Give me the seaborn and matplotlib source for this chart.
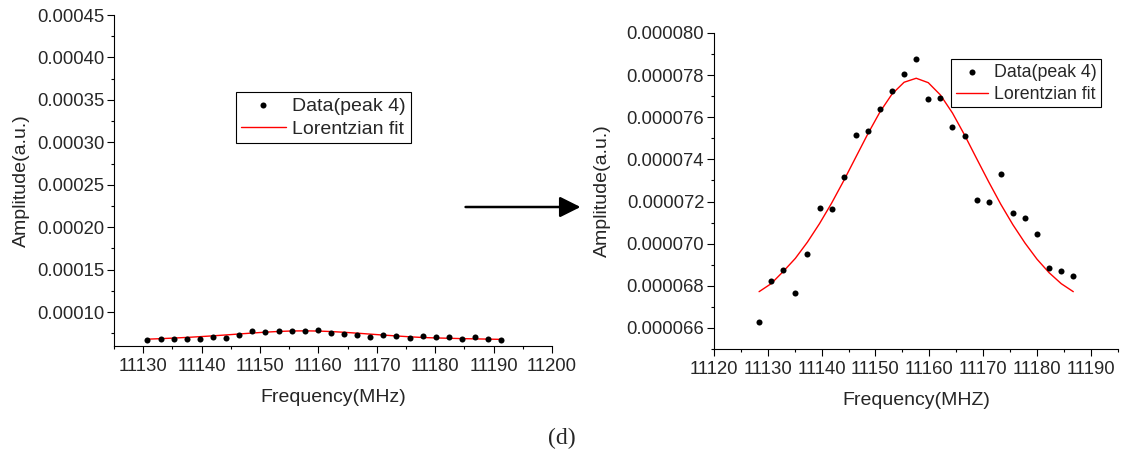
"""
Pik 4 – pomiar amplitudy i dopasowanie Lorentza: pełny zakres osi Y
i powiększenie, połączone strzałką (panel d).
"""

import matplotlib
matplotlib.use('Agg')
import matplotlib.pyplot as plt
from matplotlib.ticker import MultipleLocator, FormatStrFormatter
import numpy as np
import seaborn as sns

# --- odczyty z wykresu; amplitudy w jednostkach 1e-6 ---
freq_full = [11130.74, 11132.98, 11135.23, 11137.47, 11139.71, 11141.96, 11144.20,
             11146.45, 11148.69, 11150.93, 11153.18, 11155.42, 11157.66, 11159.91,
             11162.15, 11164.40, 11166.64, 11168.88, 11171.13, 11173.37, 11175.61,
             11177.86, 11180.10, 11182.35, 11184.59, 11186.83, 11189.08, 11191.32]
amp_full = [67.0, 67.8, 68.2, 67.8, 68.6, 70.5, 69.3, 73.3, 77.2, 76.4, 78.0, 77.2,
            77.2, 78.4, 74.9, 74.4, 72.9, 70.9, 72.5, 71.3, 69.7, 71.7, 70.5, 70.9,
            68.6, 70.1, 68.2, 67.0]
fit_full = [68.05, 68.64, 69.33, 70.11, 70.99, 71.97, 73.03, 74.16, 75.27, 76.29,
            77.13, 77.68, 77.85, 77.62, 77.03, 76.15, 75.11, 73.99, 72.87, 71.82,
            70.86, 70.0, 69.5, 69.1, 68.7, 68.4, 68.1, 67.8]

freq_zoom = [11128.39, 11130.63, 11132.88, 11135.12, 11137.36, 11139.61, 11141.85,
             11144.09, 11146.34, 11148.58, 11150.83, 11153.07, 11155.31, 11157.56,
             11159.80, 11162.04, 11164.29, 11166.53, 11168.77, 11171.02, 11173.26,
             11175.50, 11177.75, 11179.99, 11182.23, 11184.48, 11186.72]
amp_zoom = [66.30, 68.23, 68.74, 67.65, 69.50, 71.69, 71.63, 73.18, 75.16, 75.36,
            76.38, 77.25, 78.04, 78.75, 76.88, 76.93, 75.52, 75.11, 72.07, 71.99,
            73.29, 71.47, 71.22, 70.45, 68.86, 68.72, 68.47]
fit_zoom = [67.72, 68.10, 68.68, 69.30, 70.07, 70.95, 71.92, 72.98, 74.10, 75.21,
            76.25, 77.10, 77.66, 77.85, 77.64, 77.06, 76.20, 75.16, 74.04, 72.93,
            71.87, 70.90, 70.03, 69.26, 68.62, 68.10, 67.72]

TICK_FS = 13.3
LABEL_FS = 14

sns.set_style('ticks')
plt.rcParams['font.family'] = ['Liberation Sans', 'DejaVu Sans']
plt.rcParams['font.size'] = LABEL_FS
plt.rcParams['axes.linewidth'] = 0.8

fig = plt.figure(figsize=(11.26, 4.59), dpi=100)
ax1 = fig.add_axes([0.1012, 0.2462, 0.389, 0.7211])
ax2 = fig.add_axes([0.634, 0.2397, 0.3588, 0.6885])


def draw_panel(ax, freq, amp, fit):
    amp = np.array(amp) * 1e-6
    fit = np.array(fit) * 1e-6
    sns.scatterplot(x=freq, y=amp, ax=ax, color='black', s=19, linewidth=0,
                    label='Data(peak 4)', zorder=3)
    sns.lineplot(x=freq, y=fit, ax=ax, color='red', linewidth=1.0,
                 label='Lorentzian fit', zorder=2)
    sns.despine(ax=ax)
    ax.tick_params(which='major', direction='out', length=5, width=0.8,
                   labelsize=TICK_FS, color='black')
    ax.tick_params(which='minor', direction='out', length=2.5, width=0.8, color='black')
    ax.tick_params(axis='x', pad=3.5)
    ax.tick_params(axis='y', pad=2)
    for sp in ax.spines.values():
        sp.set_color('black')


def style_legend(ax, anchor, fs, hlen):
    leg = ax.legend(loc='upper left', bbox_to_anchor=anchor, frameon=True,
                    fancybox=False, edgecolor='black', framealpha=1,
                    borderpad=0.25, labelspacing=0.3, handlelength=hlen,
                    handletextpad=0.35, borderaxespad=0, fontsize=fs)
    leg.get_frame().set_linewidth(0.8)


draw_panel(ax1, freq_full, amp_full, fit_full)
ax1.set_xlim(11125, 11200)
ax1.set_ylim(0.00006, 0.00045)
ax1.xaxis.set_major_locator(MultipleLocator(10))
ax1.xaxis.set_minor_locator(MultipleLocator(5))
ax1.yaxis.set_minor_locator(MultipleLocator(0.000025))
ax1.set_yticks(np.arange(0.00010, 0.000451, 0.00005))
ax1.yaxis.set_major_formatter(FormatStrFormatter('%.5f'))
ax1.set_xlabel('Frequency(MHz)', fontsize=LABEL_FS, labelpad=10)
ax1.set_ylabel('Amplitude(a.u.)', fontsize=LABEL_FS, labelpad=5)
style_legend(ax1, (0.2785, 0.767), LABEL_FS, 2.3)

draw_panel(ax2, freq_zoom, amp_zoom, fit_zoom)
ax2.set_xlim(11120, 11195)
ax2.set_ylim(0.000065, 0.000080)
ax2.xaxis.set_major_locator(MultipleLocator(10))
ax2.xaxis.set_minor_locator(MultipleLocator(5))
ax2.set_xticks(np.arange(11120, 11191, 10))
ax2.set_yticks(np.arange(0.000066, 0.0000801, 0.000002))
ax2.yaxis.set_minor_locator(MultipleLocator(0.000001))
ax2.yaxis.set_major_formatter(FormatStrFormatter('%.6f'))
ax2.set_xlabel('Frequency(MHZ)', fontsize=LABEL_FS, labelpad=10)
ax2.set_ylabel('Amplitude(a.u.)', fontsize=LABEL_FS, labelpad=11)
style_legend(ax2, (0.588, 0.917), 12.8, 1.8)

# strzałka między panelami
fig.patches.append(matplotlib.patches.FancyArrowPatch(
    (0.411, 0.549), (0.518, 0.549), transform=fig.transFigure,
    arrowstyle='-|>,head_length=0.9,head_width=0.45', mutation_scale=14,
    color='black', linewidth=1.8))

fig.text(0.499, 0.045, '(d)', ha='center', va='center', fontsize=17,
         family=['Liberation Serif', 'DejaVu Serif'])

fig.savefig('out.png', dpi=100)
plt.close(fig)
